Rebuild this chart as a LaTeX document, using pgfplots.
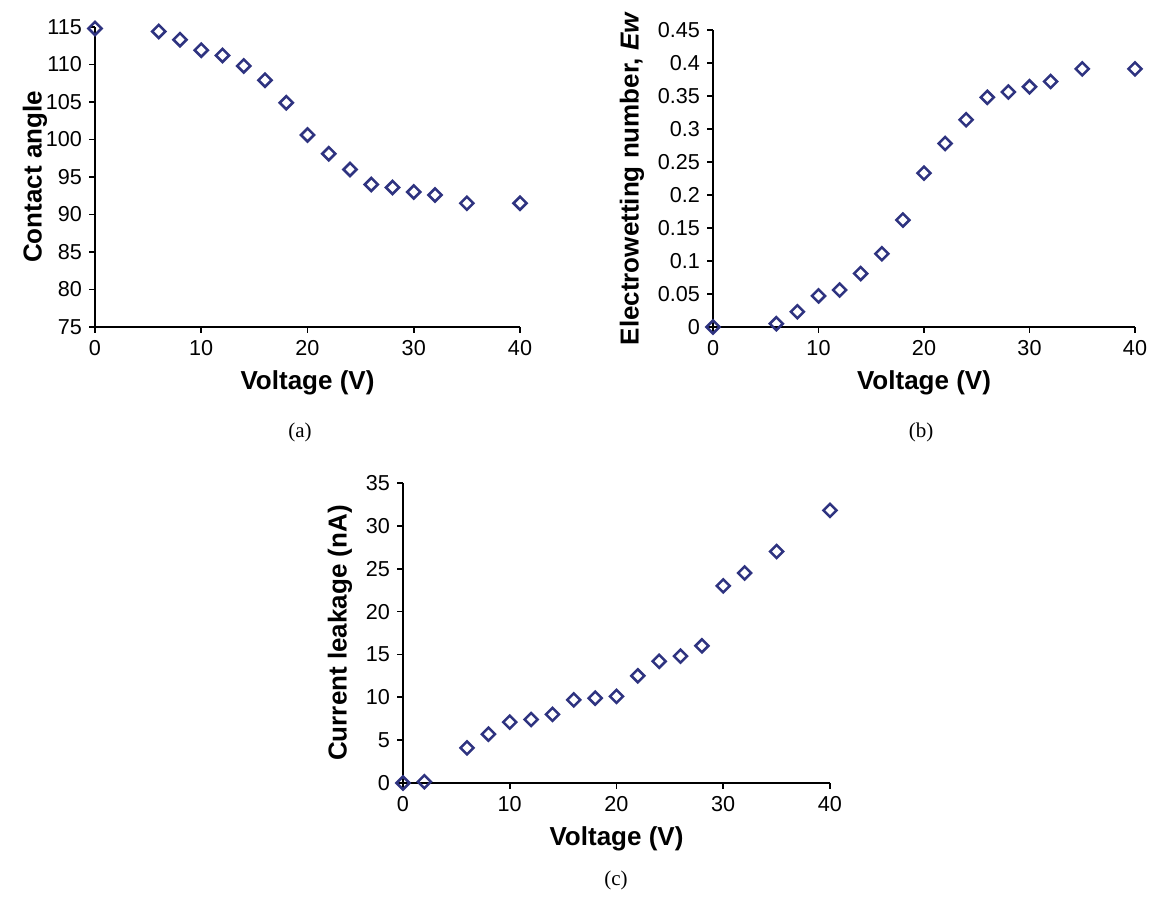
\documentclass[border=0pt]{standalone}
\usepackage{fontspec}
\setmainfont{Liberation Sans}
\newfontfamily\capfont{Liberation Serif}
\usepackage{pgfplots}
\pgfplotsset{compat=1.18}
\definecolor{navy}{HTML}{2E3380}

% 1 px of the reference = 0.5pt
\pgfplotsset{
  panel/.style={
    scale only axis,
    axis lines=left,
    axis line style={-, line width=0.9pt},
    tick style={line width=0.9pt, black},
    tick align=outside,
    major tick length=3pt,
    xmin=0, xmax=40,
    xtick={0,10,20,30,40},
    clip=false,
    ticklabel style={font=\fontsize{10.8}{12}\selectfont},
    /pgf/number format/assume math mode=true,
    /pgf/number format/fixed,
    xlabel={Voltage (V)},
    label style={font=\bfseries\fontsize{13}{15}\selectfont},
    xlabel style={at={(axis description cs:0.5,0)}, anchor=center, yshift=-28pt},
    ylabel style={at={(axis description cs:0,0.5)}, anchor=center},
  },
  pts/.style={only marks, mark=square, mark size=2.3pt,
    mark options={solid, rotate=45, draw=navy, fill=white, line width=1.25pt}},
}

\begin{document}
\begin{tikzpicture}
\path[use as bounding box] (0,0) rectangle (575.5pt,449pt);

% (a)
\begin{axis}[panel,
  at={(47.5pt,285.5pt)}, width=212.5pt, height=150pt,
  ymin=75, ymax=115, ytick={75,80,...,115},
  ylabel={Contact angle},
  ylabel style={yshift=30pt},
]
\addplot[pts] coordinates {
(0,114.8) (6,114.4) (8,113.3) (10,111.9) (12,111.2) (14,109.8) (16,107.9)
(18,104.9) (20,100.6) (22,98.1) (24,96.0) (26,94.0) (28,93.6) (30,93.0)
(32,92.6) (35,91.5) (40,91.5)
};
\end{axis}
\node[font=\capfont\fontsize{10.5}{12}\selectfont] at (150pt,233pt) {(a)};

% (b)
\begin{axis}[panel,
  at={(356.5pt,285.5pt)}, width=211pt, height=148.5pt,
  ymin=0, ymax=0.45, ytick={0,0.05,0.1,0.15,0.2,0.25,0.3,0.35,0.4,0.45},
  ylabel={Electrowetting number, \textit{Ew}},
  ylabel style={yshift=40.5pt},
]
\addplot[pts] coordinates {
(0,0) (6,0.005) (8,0.023) (10,0.047) (12,0.056) (14,0.081) (16,0.111)
(18,0.162) (20,0.233) (22,0.278) (24,0.314) (26,0.348) (28,0.356) (30,0.364)
(32,0.372) (35,0.391) (40,0.391)
};
\end{axis}
\node[font=\capfont\fontsize{10.5}{12}\selectfont] at (460.5pt,233pt) {(b)};

% (c)
\begin{axis}[panel,
  at={(201.5pt,57.5pt)}, width=213.5pt, height=150pt,
  ymin=0, ymax=35, ytick={0,5,...,35},
  ylabel={Current leakage (nA)},
  ylabel style={yshift=31.5pt},
]
\addplot[pts] coordinates {
(0,0) (2,0.15) (6,4.1) (8,5.7) (10,7.1) (12,7.4) (14,8.0) (16,9.7)
(18,9.9) (20,10.1) (22,12.5) (24,14.2) (26,14.8) (28,16.0) (30,23.0)
(32,24.5) (35,27.0) (40,31.8)
};
\end{axis}
\node[font=\capfont\fontsize{10.5}{12}\selectfont] at (308pt,9pt) {(c)};
\end{tikzpicture}
\end{document}
